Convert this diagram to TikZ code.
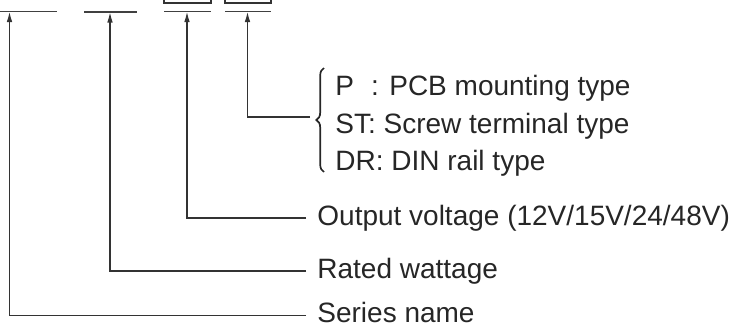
\documentclass[tikz,border=0pt]{standalone}
\usepackage{fontspec}
\setmainfont{Liberation Sans}
\usetikzlibrary{arrows.meta,decorations.pathreplacing}

\begin{document}
\begin{tikzpicture}[
    x=0.5pt, y=-0.5pt,
    desc/.style={
        anchor=west,
        inner xsep=5.5pt,
        inner ysep=0pt,
        text height=0.72em,
        text depth=0pt,
        text=black!85,
        font=\fontsize{14}{18.75}\selectfont
    },
    desclist/.style={
        anchor=west,
        inner xsep=5.5pt,
        inner ysep=0pt,
        align=left,
        text=black!85,
        font=\fontsize{14}{18.75}\selectfont
    },
    bar/.style={draw=black!75, line width=0.55pt},
    codebox/.style={draw=black!80, line width=0.6pt},
    arrow/.style={-{Latex[length=5pt,width=2.8pt]}, black!80, line width=0.55pt},
    curly/.style={decorate, decoration={brace, amplitude=3.8pt}, black!85, line width=0.85pt}
]

\useasboundingbox (0,0) rectangle (730,327);
\clip (0,0) rectangle (730,327);

% code fields
\draw[codebox] (164,-20) rectangle (211,3);
\draw[codebox] (225,-20) rectangle (271,3);
\draw[bar] (0,11.5) -- (57,11.5);
\draw[bar] (84,12) -- (137,12);
\draw[bar] (164,11.5) -- (211,11.5);
\draw[bar] (225,11.5) -- (271,11.5);

\coordinate (series) at (9.5,12);
\coordinate (watt) at (110,12.5);
\coordinate (volt) at (187,12);
\coordinate (type) at (247.5,12);

% descriptions
\node[desclist] (typelist) at (324,126) {P\hphantom{T}: PCB mounting type\\ST: Screw terminal type\\DR: DIN rail type};
\node[desc] (voltdesc) at (306,218) {Output voltage (12V/15V/24/48V)};
\node[desc] (wattdesc) at (306,271) {Rated wattage};
\node[desc] (seriesdesc) at (306,315.5) {Series name};

\coordinate (tip) at (310,117);
\draw[curly] (324,172) -- (324,68);

\draw[arrow] (tip) -| (type);
\draw[arrow] (voltdesc.west) -| (volt);
\draw[arrow] (wattdesc.west) -| (watt);
\draw[arrow] (seriesdesc.west) -| (series);

\end{tikzpicture}
\end{document}
